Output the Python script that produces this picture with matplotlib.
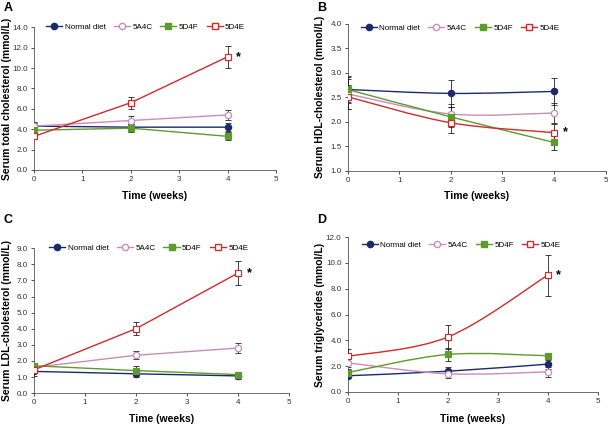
import numpy as np
import matplotlib
matplotlib.use("Agg")
import matplotlib.pyplot as plt
from matplotlib.path import Path
from matplotlib.patches import PathPatch
from matplotlib.lines import Line2D

plt.rcParams['font.family'] = ['Liberation Sans', 'DejaVu Sans']

weeks = [0, 2, 4]
groups = ["Normal diet", "5A4C", "5D4F", "5D4E"]

# panel A: serum total cholesterol
total_mean = {"Normal diet": [4.3, 4.2, 4.2], "5A4C": [4.3, 4.85, 5.4],
              "5D4F": [3.9, 4.1, 3.3], "5D4E": [3.3, 6.6, 11.1]}
total_err = {"Normal diet": [0.4, 0.3, 0.4], "5A4C": [0.3, 0.4, 0.5],
             "5D4F": [0.3, 0.4, 0.4], "5D4E": [0.3, 0.6, 1.1]}

# panel B: HDL
hdl_mean = {"Normal diet": [2.66, 2.58, 2.62], "5A4C": [2.57, 2.16, 2.18],
            "5D4F": [2.66, 2.10, 1.58], "5D4E": [2.51, 1.98, 1.78]}
hdl_err = {"Normal diet": [0.27, 0.27, 0.28], "5A4C": [0.3, 0.2, 0.2],
           "5D4F": [0.25, 0.2, 0.15], "5D4E": [0.25, 0.2, 0.18]}

# panel C: LDL
ldl_mean = {"Normal diet": [1.35, 1.2, 1.07], "5A4C": [1.6, 2.35, 2.8],
            "5D4F": [1.7, 1.4, 1.15], "5D4E": [1.45, 4.0, 7.45]}
ldl_err = {"Normal diet": [0.3, 0.2, 0.2], "5A4C": [0.2, 0.25, 0.3],
           "5D4F": [0.2, 0.3, 0.15], "5D4E": [0.2, 0.4, 0.75]}

# panel D: triglycerides
tg_mean = {"Normal diet": [1.25, 1.6, 2.15], "5A4C": [2.25, 1.4, 1.55],
           "5D4F": [1.5, 2.9, 2.8], "5D4E": [2.75, 4.25, 9.05]}
tg_err = {"Normal diet": [0.2, 0.3, 0.35], "5A4C": [0.3, 0.3, 0.4],
          "5D4F": [0.3, 0.5, 0.25], "5D4E": [0.6, 0.9, 1.6]}

colors = {"Normal diet": "#1b2a6b", "5A4C": "#c98dbd", "5D4F": "#5c9b2c", "5D4E": "#d22b2b"}
markers = {"Normal diet": "o", "5A4C": "o", "5D4F": "s", "5D4E": "s"}
filled = {"Normal diet": True, "5A4C": False, "5D4F": True, "5D4E": False}


def smooth_path(x, y):
    # Catmull-Rom through the points, as cubic Bezier segments
    pts = np.column_stack([x, y]).astype(float)
    ext = np.vstack([pts[0], pts, pts[-1]])
    verts = [pts[0]]
    codes = [Path.MOVETO]
    for i in range(1, len(ext) - 2):
        p0, p1, p2, p3 = ext[i - 1], ext[i], ext[i + 1], ext[i + 2]
        verts += [p1 + (p2 - p0) / 6, p2 - (p3 - p1) / 6, p2]
        codes += [Path.CURVE4] * 3
    return Path(verts, codes)


def draw_panel(rect, letter_xy, letter, means, errs, ymin, ymax, ystep, ylabel,
               smooth, leg_xy, ylab_x, xlab_y):
    ax = fig.add_axes(rect)
    for g in groups:
        c = colors[g]
        if smooth:
            ax.add_patch(PathPatch(smooth_path(weeks, means[g]), fill=False,
                                   edgecolor=c, lw=1.0, zorder=2))
        else:
            ax.plot(weeks, means[g], color=c, lw=1.0, zorder=2)
        ax.errorbar(weeks, means[g], yerr=errs[g], fmt='none', ecolor='#222222',
                    elinewidth=0.6, capsize=2, capthick=0.6, zorder=3)
        ax.plot(weeks, means[g], linestyle='none', marker=markers[g], ms=4.5,
                mfc=c if filled[g] else 'white', mec=c, mew=0.9, zorder=4)
    ax.text(4.17, means["5D4E"][2], "*", fontsize=9, fontweight='bold',
            va='center', ha='left')
    ax.set_xlim(0, 5)
    ax.set_ylim(ymin, ymax)
    ax.set_xticks(range(6))
    ax.set_yticks(np.arange(ymin, ymax + ystep / 2, ystep))
    ax.yaxis.set_major_formatter(matplotlib.ticker.FormatStrFormatter('%.1f'))
    ax.tick_params(labelsize=5.8, length=2.5, width=0.6, direction='out', pad=2,
                   colors='#333333')
    for s in ['top', 'right']:
        ax.spines[s].set_visible(False)
    for s in ['left', 'bottom']:
        ax.spines[s].set_linewidth(0.6)
        ax.spines[s].set_color('#555555')
    ax.set_xlabel("Time (weeks)", fontsize=7.5, fontweight='bold')
    ax.set_ylabel(ylabel, fontsize=7.5, fontweight='bold')
    ax.xaxis.set_label_coords(0.5, xlab_y)
    ax.yaxis.set_label_coords(ylab_x, 0.5)
    handles = [Line2D([], [], color=colors[g], marker=markers[g], ms=4.5,
                      mfc=colors[g] if filled[g] else 'white', mec=colors[g], lw=1.0)
               for g in groups]
    ax.legend(handles, groups, ncol=4, loc='center left', bbox_to_anchor=leg_xy,
              frameon=False, fontsize=5.8, handlelength=2.0, columnspacing=1.0,
              handletextpad=0.3, borderaxespad=0, borderpad=0)
    fig.text(letter_xy[0], letter_xy[1], letter, fontsize=9, fontweight='bold',
             ha='left', va='top')
    return ax


fig = plt.figure(figsize=(6.08, 4.25), dpi=100)

draw_panel([0.056, 0.600, 0.398, 0.336], (0.006, 0.995), "A", total_mean, total_err,
           0.0, 14.0, 2.0, "Serum total cholesterol (mmol/L)", False,
           (0.05, 1.0), -0.092, -0.145)
draw_panel([0.572, 0.598, 0.424, 0.346], (0.522, 0.995), "B", hdl_mean, hdl_err,
           1.0, 4.0, 0.5, "Serum HDL-cholesterol (mmol/L)", True,
           (0.05, 0.973), -0.09, -0.14)
draw_panel([0.056, 0.075, 0.419, 0.341], (0.006, 0.496), "C", ldl_mean, ldl_err,
           0.0, 9.0, 1.0, "Serum LDL-cholesterol (mmol/L)", False,
           (0.06, 1.0), -0.088, -0.145)
draw_panel([0.572, 0.078, 0.411, 0.364], (0.522, 0.496), "D", tg_mean, tg_err,
           0.0, 12.0, 2.0, "Serum triglycerides (mmol/L)", True,
           (0.055, 0.948), -0.092, -0.14)

fig.savefig("out.png", dpi=100)
